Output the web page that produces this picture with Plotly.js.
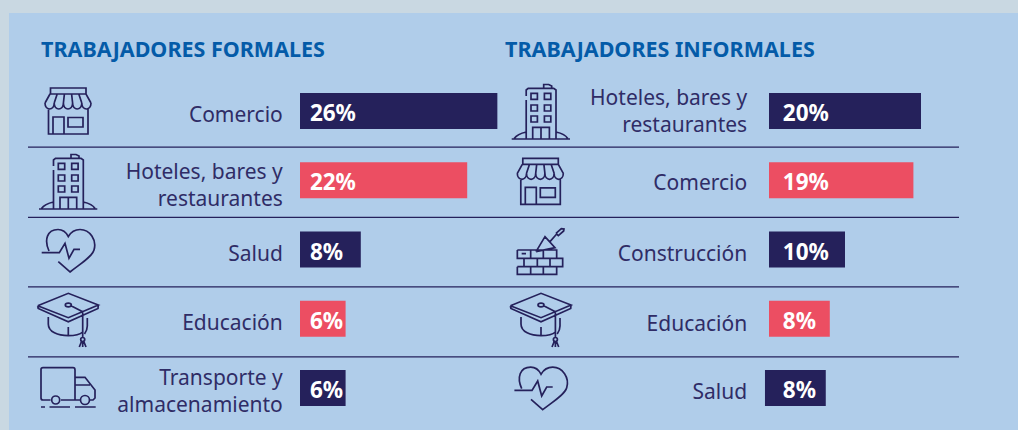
<!DOCTYPE html>
<html><head><meta charset="utf-8">
<script src="https://cdn.plot.ly/plotly-3.0.1.min.js"></script>
<style>html,body{margin:0;padding:0;background:#c9d8e2;overflow:hidden}</style></head>
<body><div id="chart" style="width:1018px;height:430px"></div>
<script>
// ---- data ----
const titleFormal = "TRABAJADORES FORMALES";
const titleInformal = "TRABAJADORES INFORMALES";
const formalCategories = ["Comercio","Hoteles, bares y<br>restaurantes","Salud","Educación","Transporte y<br>almacenamiento"];
const formalValues = [26,22,8,6,6];
const informalCategories = ["Hoteles, bares y<br>restaurantes","Comercio","Construcción","Educación","Salud"];
const informalValues = [20,19,10,8,8];
const informalBase = [0,0,0,0,-0.53];
const rows = [0,1,2,3,4];
const formalLabelRows = [0.05,0.07,0.06,0.06,0.05];
const informalLabelRows = [0.0,0.04,0.065,0.065,0.055];
// ---- style ----
const NAVY="#25215b", RED="#ec4e62", TEXT="#2f2c66", BLUE="#045ba8", PANEL="#b0cdea";
const barColors=[NAVY,RED,NAVY,RED,NAVY];
const FONT='"Noto Sans","Open Sans",sans-serif';
const W=1018,H=430, PXPER=7.6;

// ---- icon helpers (pixel-space paths on the overlay axis) ----
const mv=(p,dx,dy)=>p.replace(/(-?[\d.]+) (-?[\d.]+)/g,(m,a,b)=>(+a+dx).toFixed(1)+" "+(+b+dy).toFixed(1));
const ell=(cx,cy,rx,ry)=>{const k=.5523;return `M${cx-rx} ${cy} C${cx-rx} ${cy-ry*k} ${cx-rx*k} ${cy-ry} ${cx} ${cy-ry} C${cx+rx*k} ${cy-ry} ${cx+rx} ${cy-ry*k} ${cx+rx} ${cy} C${cx+rx} ${cy+ry*k} ${cx+rx*k} ${cy+ry} ${cx} ${cy+ry} C${cx-rx*k} ${cy+ry} ${cx-rx} ${cy+ry*k} ${cx-rx} ${cy} Z `};
const rect=(a,b,c,d)=>`M${a} ${b} L${c} ${b} L${c} ${d} L${a} ${d} Z `;
const line=(...p)=>"M"+p.map(q=>q.join(" ")).join(" L")+" ";

let shop=rect(50.5,88,86,94)+line([50,94],[86,94],[91,103])+line([50,94],[45,103]);
for(let i=0;i<5;i++){const a=45+i*9.2,b=a+9.2;shop+=`M${a} 103 C${a} 111 ${b} 111 ${b} 103 `;shop+=line([(50+i*7.2),94],[a,103]);}
shop+=line([48.5,108],[48.5,134],[88,134],[88,108])+line([53,134],[53,117],[64,117],[64,134])+rect(68,117.5,83,127);

let hotel=line([53.5,166],[53.5,160],[55.5,158.3],[81,158.3],[83.3,160],[83.3,208.5])+line([53.5,170],[53.5,208.5])+line([71,158],[71,154.5],[76,154.5],[79,156],[79,158]);
[[58.3,163.3],[71.7,163.3],[58.3,175],[71.7,175],[58.3,186],[71.7,186]].forEach(c=>hotel+=rect(c[0],c[1],c[0]+6.4,c[1]+6));
hotel+=line([60,208.5],[60,197.3],[76.7,197.3],[76.7,208.5])+line([68.3,197.3],[68.3,208.5])+line([39,209],[97.3,209]);
hotel+="M41.5 208.5 C44 205 49 203 53.5 202 M83.3 202 C88 203 93 205 95 208.5 ";

const heart=line([41.7,252.7],[59.3,252.7],[65,243.3],[69,258.3],[74,249.3],[80,249.3])+
 "M49 251 C44 240 47 229.5 58 229.5 C63 229.5 66 232 68.3 236.5 C71 232 75 229.5 80 229.5 C90 229.5 97 240 94 250 C92 257 80 264 70 272 L58.3 261.7 ";

const cap=line([37.7,305.7],[68.3,293.3],[98.3,305],[68.3,317.7],[37.7,305.7])+line([37.7,306],[38.2,308.5],[68.3,321.7],[98,308.5],[98.3,305])+
 "M48.3 317 L48.3 324 C48.3 332 58 335.7 68.3 335.7 C74 335.7 80 334.5 82.7 332 M87.3 318 L87.3 326 C87.3 329 86 332 84.5 334 "+line([68.3,327],[68.3,335.7])+
 ell(68.3,305,3,1.8)+line([71,305.7],[82.7,311.7],[82.7,337.5])+ell(82.7,339.5,2,2)+line([82.7,342],[82.7,347])+line([81.3,342],[79.3,347])+line([84,342],[86,347]);

const truck="M50.5 400 L43 400 C41.5 400 41 399 41 398 L41 369.5 C41 368.5 42 367.7 43 367.7 L73 367.7 C74.5 367.7 75 368.5 75 370 L75 400 L61 400 "+
 line([75,377.3],[85,377.3],[95,390],[95,398],[93,400],[90,400])+line([75,385],[90,385])+ell(55.7,400,4,4)+ell(85,400,4.5,4.5)+line([80,400],[75,400])+
 line([41,407],[45,407])+line([49.5,407],[70,407])+line([75,407],[95.7,407]);

const xs=v=>500+v/3, ys=v=>215+v/3;
let bricks="";
[[105,130,[52,92,130,170]],[130,155,[72,112,150,188]],[155,178,[52,92,130,170]]].forEach(r=>{
  bricks+=line([xs(r[2][0]),ys(r[0])],[xs(r[2][3]),ys(r[0])],[xs(r[2][3]),ys(r[1])],[xs(r[2][0]),ys(r[1])],[xs(r[2][0]),ys(r[0])]);
  bricks+=line([xs(r[2][1]),ys(r[0])],[xs(r[2][1]),ys(r[1])])+line([xs(r[2][2]),ys(r[0])],[xs(r[2][2]),ys(r[1])]);
});
bricks+=line([xs(65),ys(116)],[xs(78),ys(116)]);
bricks+=line([xs(108),ys(110)],[xs(135),ys(65)],[xs(165),ys(98)],[xs(108),ys(110)])+line([xs(150),ys(80)],[xs(170),ys(57)]);
bricks+=line([xs(168),ys(55)],[xs(184),ys(41)],[xs(192),ys(42)],[xs(191),ys(48)],[xs(175),ys(62)],[xs(168),ys(55)]);

const iconShape=p=>({type:"path",xref:"x",yref:"y",path:p,line:{color:NAVY,width:1.7},fillcolor:"rgba(0,0,0,0)",layer:"above"});
const icons=[shop,hotel,heart,cap,truck,mv(hotel,472.7,-70),mv(shop,472.3,70.3),bricks,mv(cap,472.7,0),mv(heart,472.7,137.7)].map(iconShape);

const sep=[147.2,217.3,286.8,356.8].map(y=>({type:"line",xref:"x",yref:"y",x0:28,x1:959,y0:y,y1:y,line:{color:NAVY,width:1.3},layer:"above"}));
const panel={type:"rect",xref:"paper",yref:"paper",x0:9/W,x1:1,y0:0,y1:1-13/H,fillcolor:PANEL,line:{width:0},layer:"below"};

// ---- traces ----
const barTrace=(vals,base,xa,ya)=>({type:"bar",orientation:"h",x:vals,y:rows,base:base,width:36/69.25,marker:{color:barColors,line:{width:0}},xaxis:xa,yaxis:ya,hoverinfo:"skip",showlegend:false});
const textTrace=(vals,off,xa,ya)=>({type:"scatter",mode:"text",x:vals.map(()=>off),y:rows.map(r=>r+0.065),text:vals.map(v=>v+"%"),textposition:"middle right",cliponaxis:false,textfont:{family:FONT,size:22.5,color:"#fff",weight:700},xaxis:xa,yaxis:ya,hoverinfo:"skip",showlegend:false});
const data=[
 {type:"scatter",mode:"none",x:[0],y:[0],xaxis:"x",yaxis:"y",hoverinfo:"skip",showlegend:false},
 barTrace(formalValues,rows.map(()=>0),"x2","y2"),
 barTrace(informalValues,informalBase,"x3","y3"),
 textTrace(formalValues,1.3,"x2","y2"),
 textTrace(informalValues,1.82,"x3","y3")
];
const yBase={range:[4.5,-0.5],domain:[7.5/H,(H-76.4)/H],tickmode:"array",showgrid:false,zeroline:false,showline:false,ticks:"outside",ticklen:12,tickcolor:"rgba(0,0,0,0)",tickfont:{family:FONT,size:21,color:TEXT},automargin:false};
const layout={
 width:W,height:H,margin:{l:0,r:0,t:0,b:0},paper_bgcolor:"#c9d8e2",plot_bgcolor:"rgba(0,0,0,0)",hovermode:false,
 xaxis:{range:[0,W],domain:[0,1],visible:false,fixedrange:true},
 yaxis:{range:[H,0],domain:[0,1],visible:false,fixedrange:true},
 xaxis2:{range:[0,26],domain:[300/W,(300+26*PXPER)/W],visible:false,anchor:"y2"},
 yaxis2:Object.assign({},yBase,{anchor:"x2",tickvals:formalLabelRows.map((d,i)=>rows[i]+d),ticktext:formalCategories}),
 xaxis3:{range:[-1,20],domain:[(769-PXPER)/W,(769+20*PXPER)/W],visible:false,anchor:"y3"},
 yaxis3:Object.assign({},yBase,{anchor:"x3",tickvals:informalLabelRows.map((d,i)=>rows[i]+d),ticktext:informalCategories,ticklen:9}),
 shapes:[panel].concat(sep,icons),
 annotations:[
  {xref:"x",yref:"y",x:39,y:48,text:titleFormal,showarrow:false,xanchor:"left",yanchor:"middle",font:{family:FONT,size:21.5,color:BLUE,weight:700}},
  {xref:"x",yref:"y",x:503,y:48,text:titleInformal,showarrow:false,xanchor:"left",yanchor:"middle",font:{family:FONT,size:21.5,color:BLUE,weight:700}}
 ]
};
Plotly.newPlot("chart",data,layout,{displayModeBar:false,staticPlot:true});
</script></body></html>
